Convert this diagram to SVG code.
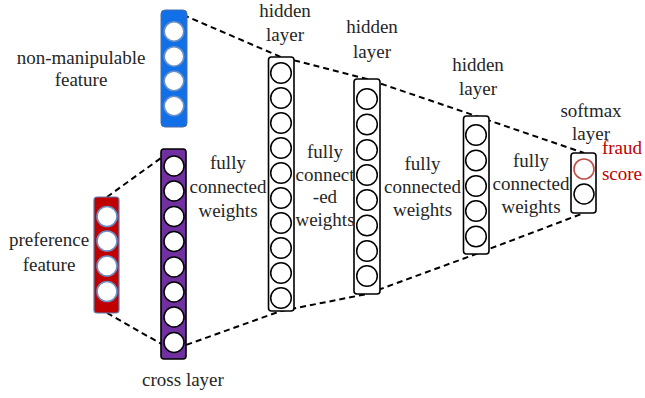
<svg xmlns="http://www.w3.org/2000/svg" width="645" height="398" viewBox="0 0 645 398">
<style>
text{font-family:"Liberation Serif","Times New Roman",serif;font-size:19px;fill:#262626;text-anchor:middle}
.red{fill:#c00000}
.box{fill:#fff;stroke:#000;stroke-width:1.6}
.c{fill:#fff;stroke:#000;stroke-width:1.5}
.cb{fill:#fff;stroke:#6a8fc4;stroke-width:1.6}
.dash{fill:none;stroke:#000;stroke-width:2;stroke-dasharray:6 4}
</style>
<rect width="645" height="398" fill="#fff"/>
<g id="connectors">
<polyline class="dash" points="174,11 281,57 367,79 476,116 584,153"/>
<polyline class="dash" points="107,197 172,150"/>
<polyline class="dash" points="107,313 172,350 281,311 367,294 476,254 584,213"/>
</g>
<g id="non-manipulable">
<rect x="161" y="10" width="26" height="117" rx="4" fill="#1170e8" stroke="#4a6fa5" stroke-width="1"/>
<circle class="cb" cx="174" cy="31.5" r="9.8"/>
<circle class="cb" cx="174" cy="56.5" r="9.8"/>
<circle class="cb" cx="174" cy="81" r="9.8"/>
<circle class="cb" cx="174" cy="106" r="9.8"/>
<text x="81" y="64">non-manipulable</text>
<text x="81" y="86">feature</text>
</g>
<g id="preference">
<rect x="94" y="197" width="25" height="116" rx="3" fill="#c00000" stroke="#5b7fb0" stroke-width="1.2"/>
<circle class="cb" cx="107" cy="216.5" r="10"/>
<circle class="cb" cx="107" cy="241" r="10"/>
<circle class="cb" cx="107" cy="266" r="10"/>
<circle class="cb" cx="107" cy="291.5" r="10"/>
<text x="49" y="246">preference</text>
<text x="49" y="271">feature</text>
</g>
<g id="cross-layer">
<rect x="161" y="149" width="25" height="210" rx="3" fill="#7030a0" stroke="#000" stroke-width="1.6"/>
<circle class="c" cx="174" cy="166" r="10"/>
<circle class="c" cx="174" cy="191" r="10"/>
<circle class="c" cx="174" cy="216.5" r="10"/>
<circle class="c" cx="174" cy="241.5" r="10"/>
<circle class="c" cx="174" cy="267" r="10"/>
<circle class="c" cx="174" cy="292" r="10"/>
<circle class="c" cx="174" cy="317" r="10"/>
<circle class="c" cx="174" cy="342.5" r="10"/>
<text x="183" y="386">cross layer</text>
</g>
<g id="hidden1">
<rect class="box" x="268.5" y="57" width="25.5" height="254" rx="3"/>
<circle class="c" cx="281" cy="73" r="10.3"/>
<circle class="c" cx="281" cy="98" r="10.3"/>
<circle class="c" cx="281" cy="123" r="10.3"/>
<circle class="c" cx="281" cy="148" r="10.3"/>
<circle class="c" cx="281" cy="173" r="10.3"/>
<circle class="c" cx="281" cy="198" r="10.3"/>
<circle class="c" cx="281" cy="223" r="10.3"/>
<circle class="c" cx="281" cy="248" r="10.3"/>
<circle class="c" cx="281" cy="273" r="10.3"/>
<circle class="c" cx="281" cy="298" r="10.3"/>
<text x="285" y="17">hidden</text>
<text x="285" y="41">layer</text>
</g>
<g id="hidden2">
<rect class="box" x="354" y="79" width="26" height="215" rx="3"/>
<circle class="c" cx="367" cy="99" r="10.3"/>
<circle class="c" cx="367" cy="124.5" r="10.3"/>
<circle class="c" cx="367" cy="150" r="10.3"/>
<circle class="c" cx="367" cy="175" r="10.3"/>
<circle class="c" cx="367" cy="200" r="10.3"/>
<circle class="c" cx="367" cy="225.5" r="10.3"/>
<circle class="c" cx="367" cy="251" r="10.3"/>
<circle class="c" cx="367" cy="276" r="10.3"/>
<text x="372" y="33">hidden</text>
<text x="372" y="58">layer</text>
</g>
<g id="hidden3">
<rect class="box" x="463.5" y="116" width="25.5" height="138" rx="3"/>
<circle class="c" cx="476" cy="135" r="10.3"/>
<circle class="c" cx="476" cy="160.5" r="10.3"/>
<circle class="c" cx="476" cy="186" r="10.3"/>
<circle class="c" cx="476" cy="211" r="10.3"/>
<circle class="c" cx="476" cy="236.5" r="10.3"/>
<text x="478" y="71">hidden</text>
<text x="478" y="95">layer</text>
</g>
<g id="softmax">
<rect class="box" x="571" y="153" width="25" height="60" rx="3"/>
<circle cx="584" cy="169" r="10" fill="#fff" stroke="#c0504d" stroke-width="1.6"/>
<circle class="c" cx="584" cy="194" r="10"/>
<text x="591" y="117">softmax</text>
<text x="591" y="140">layer</text>
<text class="red" x="622" y="154">fraud</text>
<text class="red" x="622" y="180">score</text>
</g>
<g id="labels">
<text x="228" y="169">fully</text>
<text x="228" y="193">connected</text>
<text x="228" y="217">weights</text>
<text x="325" y="158">fully</text>
<text x="325" y="180.5">connect</text>
<text x="325" y="203">-ed</text>
<text x="325" y="225.5">weights</text>
<text x="422.5" y="170">fully</text>
<text x="422.5" y="193">connected</text>
<text x="422.5" y="216">weights</text>
<text x="531" y="167">fully</text>
<text x="531" y="190">connected</text>
<text x="531" y="213">weights</text>
</g>
</svg>
